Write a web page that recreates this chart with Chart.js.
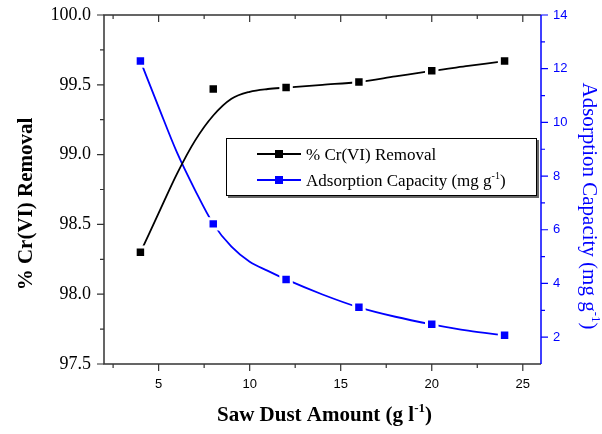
<!DOCTYPE html>
<html>
<head>
<meta charset="utf-8">
<script src="https://cdn.jsdelivr.net/npm/chart.js@4.4.0/dist/chart.umd.min.js"></script>
<style>
  html, body { margin: 0; padding: 0; background: #fff; }
  canvas { display: block; }
</style>
</head>
<body>
<canvas id="chart" width="602" height="434"></canvas>
<script>
// measured points
const sawDust = [4, 8, 12, 16, 20, 24];
const removal = [98.30, 99.47, 99.48, 99.52, 99.60, 99.67];
const capacity = [12.29, 6.22, 4.15, 3.11, 2.48, 2.07];

// smooth fitted curves
const fitDust = [4, 5, 6, 7, 8, 9, 10, 11, 12, 14, 16, 18, 20, 22, 24];
const fitRemoval = [98.30, 98.58, 98.86, 99.10, 99.28, 99.40, 99.45, 99.47, 99.48, 99.50, 99.52, 99.56, 99.60, 99.635, 99.67];
const fitCapacity = [12.29, 10.57, 8.89, 7.48, 6.22, 5.37, 4.81, 4.47, 4.15, 3.59, 3.11, 2.76, 2.48, 2.24, 2.07];

// axis ticks
const xTicks = [5, 10, 15, 20, 25];
const xMinor = [2.5, 7.5, 12.5, 17.5, 22.5];
const leftTicks = [97.5, 98.0, 98.5, 99.0, 99.5, 100.0];
const leftMinor = [97.75, 98.25, 98.75, 99.25, 99.75];
const rightTicks = [2, 4, 6, 8, 10, 12, 14];
const rightMinor = [3, 5, 7, 9, 11, 13];

const BLUE = '#0000ff';
const SERIF = '"Liberation Serif", "Times New Roman", serif';
const SANS = '"Liberation Sans", Arial, sans-serif';

const pts = (xs, ys) => xs.map((x, i) => ({ x: x, y: ys[i] }));

// draws text with a superscript part
function richText(ctx, parts, size, weight) {
  let w = 0;
  parts.forEach(p => {
    ctx.font = `${weight} ${p.sup ? Math.round(size * 0.6) : size}px ${SERIF}`;
    p.w = ctx.measureText(p.t).width;
    w += p.w;
  });
  let x = -w / 2;
  parts.forEach(p => {
    ctx.font = `${weight} ${p.sup ? Math.round(size * 0.6) : size}px ${SERIF}`;
    ctx.fillText(p.t, x, p.sup ? -size * 0.42 : 0);
    x += p.w;
  });
}

const framePlugin = {
  id: 'frame',
  afterDraw(chart) {
    const { ctx, chartArea: a, scales } = chart;
    const sx = scales.x, yl = scales.y, yr = scales.y1;
    ctx.save();

    // frame
    ctx.lineWidth = 1.5;
    ctx.strokeStyle = '#333';
    ctx.beginPath();
    ctx.moveTo(a.right, a.top);
    ctx.lineTo(a.left, a.top);
    ctx.lineTo(a.left, a.bottom);
    ctx.lineTo(a.right, a.bottom);
    ctx.stroke();
    ctx.strokeStyle = BLUE;
    ctx.beginPath();
    ctx.moveTo(a.right, a.top);
    ctx.lineTo(a.right, a.bottom);
    ctx.stroke();

    // tick marks
    ctx.lineWidth = 1.2;
    ctx.strokeStyle = '#333';
    ctx.beginPath();
    xTicks.concat(xMinor).forEach(v => {
      const len = xTicks.includes(v) ? 7 : 4;
      const px = sx.getPixelForValue(v);
      ctx.moveTo(px, a.bottom); ctx.lineTo(px, a.bottom + len);
      ctx.moveTo(px, a.top); ctx.lineTo(px, a.top + len);
    });
    leftTicks.concat(leftMinor).forEach(v => {
      const len = leftTicks.includes(v) ? 7 : 4;
      const py = yl.getPixelForValue(v);
      ctx.moveTo(a.left, py); ctx.lineTo(a.left - len, py);
    });
    ctx.stroke();
    ctx.strokeStyle = BLUE;
    ctx.beginPath();
    rightTicks.concat(rightMinor).forEach(v => {
      const len = rightTicks.includes(v) ? 7 : 4;
      const py = yr.getPixelForValue(v);
      ctx.moveTo(a.right, py); ctx.lineTo(a.right + len, py);
    });
    ctx.stroke();

    // axis titles
    ctx.fillStyle = '#000';
    ctx.textBaseline = 'alphabetic';
    ctx.textAlign = 'left';
    ctx.save();
    ctx.translate((a.left + a.right) / 2 + 2, 421);
    richText(ctx, [{ t: 'Saw Dust Amount (g l' }, { t: '-1', sup: true }, { t: ')' }], 21, 'bold');
    ctx.restore();

    ctx.save();
    ctx.translate(32, 204);
    ctx.rotate(-Math.PI / 2);
    richText(ctx, [{ t: '% Cr(VI) Removal' }], 21, 'bold');
    ctx.restore();

    ctx.save();
    ctx.fillStyle = BLUE;
    ctx.translate(583, 206);
    ctx.rotate(Math.PI / 2);
    richText(ctx, [{ t: 'Adsorption Capacity (mg g' }, { t: '-1', sup: true }, { t: ')' }], 21, 'normal');
    ctx.restore();

    // legend
    const L = 226, T = 138, R = 537, B = 196;
    ctx.fillStyle = '#666';
    ctx.fillRect(L + 2, T + 2, R - L, B - T);
    ctx.fillStyle = '#fff';
    ctx.fillRect(L, T, R - L, B - T);
    ctx.lineWidth = 1;
    ctx.strokeStyle = '#000';
    ctx.strokeRect(L + 0.5, T + 0.5, R - L - 1, B - T - 1);
    const rows = [
      { c: '#000', parts: [{ t: '% Cr(VI) Removal' }], y: 154 },
      { c: BLUE, parts: [{ t: 'Adsorption Capacity (mg g' }, { t: '-1', sup: true }, { t: ')' }], y: 180 }
    ];
    rows.forEach(r => {
      ctx.strokeStyle = r.c;
      ctx.lineWidth = 1.8;
      ctx.beginPath();
      ctx.moveTo(257, r.y); ctx.lineTo(301, r.y);
      ctx.stroke();
      ctx.fillStyle = r.c;
      ctx.fillRect(279 - 4, r.y - 4, 8, 8);
      ctx.fillStyle = '#000';
      let x = 306;
      r.parts.forEach(p => {
        const s = p.sup ? 10 : 17;
        ctx.font = `${s}px ${SERIF}`;
        ctx.fillText(p.t, x, r.y + (p.sup ? -1 : 6));
        x += ctx.measureText(p.t).width;
      });
    });

    ctx.restore();
  }
};

const marker = (color) => ({
  showLine: false,
  pointStyle: 'rect',
  pointRadius: 7.4,
  pointHoverRadius: 7.4,
  backgroundColor: color,
  borderColor: '#fff',
  borderWidth: 3,
  order: 0
});

const curve = (color) => ({
  showLine: true,
  pointRadius: 0,
  borderColor: color,
  borderWidth: 1.8,
  tension: 0.4,
  cubicInterpolationMode: 'monotone',
  fill: false,
  order: 1
});

// fixed plot box: no automatic label padding
const noPad = s => { s.paddingTop = 0; s.paddingBottom = 0; s.paddingLeft = 0; s.paddingRight = 0; };

new Chart(document.getElementById('chart'), {
  type: 'line',
  data: {
    datasets: [
      Object.assign({ label: '% Cr(VI) Removal', data: pts(sawDust, removal), yAxisID: 'y' }, marker('#000')),
      Object.assign({ label: 'Adsorption Capacity', data: pts(sawDust, capacity), yAxisID: 'y1' }, marker(BLUE)),
      Object.assign({ label: 'removal fit', data: pts(fitDust, fitRemoval), yAxisID: 'y' }, curve('#000')),
      Object.assign({ label: 'capacity fit', data: pts(fitDust, fitCapacity), yAxisID: 'y1' }, curve(BLUE))
    ]
  },
  options: {
    responsive: false,
    animation: false,
    devicePixelRatio: 1,
    layout: { padding: { top: 15, left: 0, right: 0, bottom: 0 } },
    plugins: { legend: { display: false }, tooltip: { enabled: false } },
    scales: {
      x: {
        type: 'linear', position: 'bottom', min: 2, max: 26,
        grid: { display: false, drawTicks: false }, border: { display: false },
        ticks: { padding: 13, color: '#000', font: { family: SANS, size: 13 } },
        afterBuildTicks: s => { s.ticks = xTicks.map(v => ({ value: v })); },
        afterFit: s => { s.height = 70; noPad(s); }
      },
      y: {
        type: 'linear', position: 'left', min: 97.5, max: 100,
        grid: { display: false, drawTicks: false }, border: { display: false },
        ticks: { padding: 13, color: '#000', font: { family: SERIF, size: 18 }, callback: v => v.toFixed(1) },
        afterBuildTicks: s => { s.ticks = leftTicks.map(v => ({ value: v })); },
        afterFit: s => { s.width = 104; noPad(s); }
      },
      y1: {
        type: 'linear', position: 'right', min: 1, max: 14,
        grid: { display: false, drawTicks: false }, border: { display: false },
        ticks: { padding: 12, color: BLUE, font: { family: SANS, size: 13 } },
        afterBuildTicks: s => { s.ticks = rightTicks.map(v => ({ value: v })); },
        afterFit: s => { s.width = 61; noPad(s); }
      }
    }
  },
  plugins: [framePlugin]
});
</script>
</body>
</html>
